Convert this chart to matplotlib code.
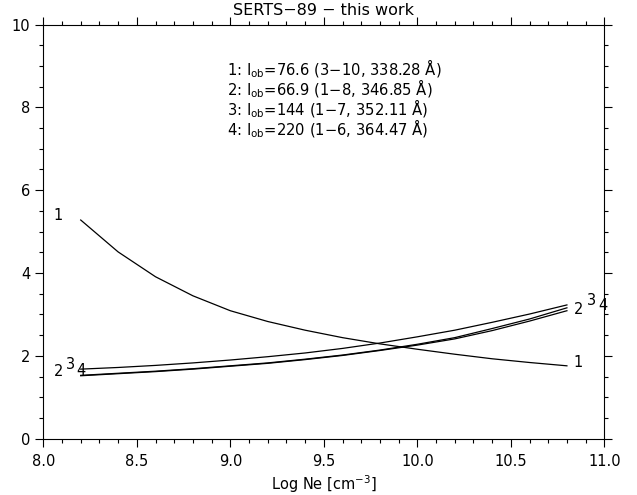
import matplotlib
matplotlib.use("Agg")
import matplotlib.pyplot as plt
from matplotlib.ticker import MultipleLocator, FormatStrFormatter

# --- DATA ---
log_ne = [8.2, 8.4, 8.6, 8.8, 9.0, 9.2, 9.4, 9.6, 9.8, 10.0, 10.2, 10.4, 10.6, 10.8]
ratio_1 = [5.28, 4.51, 3.91, 3.45, 3.09, 2.83, 2.62, 2.44, 2.29, 2.16, 2.04, 1.93, 1.84, 1.76]
ratio_2 = [1.68, 1.72, 1.77, 1.83, 1.90, 1.98, 2.07, 2.18, 2.31, 2.46, 2.62, 2.81, 3.01, 3.23]
ratio_3 = [1.53, 1.58, 1.63, 1.69, 1.76, 1.83, 1.92, 2.02, 2.14, 2.28, 2.44, 2.66, 2.89, 3.16]
ratio_4 = [1.52, 1.57, 1.62, 1.68, 1.75, 1.82, 1.91, 2.01, 2.13, 2.26, 2.41, 2.61, 2.84, 3.09]

legend_lines = [
    r"1: I$_{\rm ob}$=76.6 (3$-$10, 338.28 Å)",
    r"2: I$_{\rm ob}$=66.9 (1$-$8, 346.85 Å)",
    r"3: I$_{\rm ob}$=144 (1$-$7, 352.11 Å)",
    r"4: I$_{\rm ob}$=220 (1$-$6, 364.47 Å)",
]

plt.rcParams['mathtext.default'] = 'regular'

fig = plt.figure(figsize=(6.37, 4.95), dpi=100)
ax = fig.add_axes([0.068, 0.1137, 0.8807, 0.8368])

for r in (ratio_1, ratio_2, ratio_3, ratio_4):
    ax.plot(log_ne, r, color='black', lw=0.9)

# curve labels at both ends
fs = 10.5
ax.text(8.08, 5.40, "1", fontsize=fs, ha='center', va='center')
ax.text(10.86, 1.85, "1", fontsize=fs, ha='center', va='center')
ax.text(8.08, 1.63, "2", fontsize=fs, ha='center', va='center')
ax.text(8.145, 1.78, "3", fontsize=fs, ha='center', va='center')
ax.text(8.20, 1.65, "4", fontsize=fs, ha='center', va='center')
ax.text(10.86, 3.13, "2", fontsize=fs, ha='center', va='center')
ax.text(10.93, 3.33, "3", fontsize=fs, ha='center', va='center')
ax.text(10.99, 3.22, "4", fontsize=fs, ha='center', va='center')

# key block as one multi-line text
ax.text(0.328, 0.92, "\n".join(legend_lines), transform=ax.transAxes,
        fontsize=10.6, ha='left', va='top', linespacing=0.86)

ax.set_xlim(8.0, 11.0)
ax.set_ylim(0, 10)
ax.xaxis.set_major_locator(MultipleLocator(0.5))
ax.xaxis.set_minor_locator(MultipleLocator(0.1))
ax.yaxis.set_major_locator(MultipleLocator(2))
ax.yaxis.set_minor_locator(MultipleLocator(0.5))
ax.xaxis.set_major_formatter(FormatStrFormatter('%.1f'))
ax.yaxis.set_major_formatter(FormatStrFormatter('%d'))

ax.tick_params(which='both', direction='out', top=True, right=True,
               labelsize=fs, width=0.8)
ax.tick_params(which='major', length=6)
ax.tick_params(which='minor', length=3)
ax.tick_params(axis='x', pad=5)

for sp in ax.spines.values():
    sp.set_linewidth(0.8)

ax.set_xlabel(r"Log Ne [cm$^{-3}$]", fontsize=fs, labelpad=3)
ax.set_title("SERTS\u221289 \u2212 this work", fontsize=11.5, pad=7)

fig.savefig("out.png", dpi=100)
